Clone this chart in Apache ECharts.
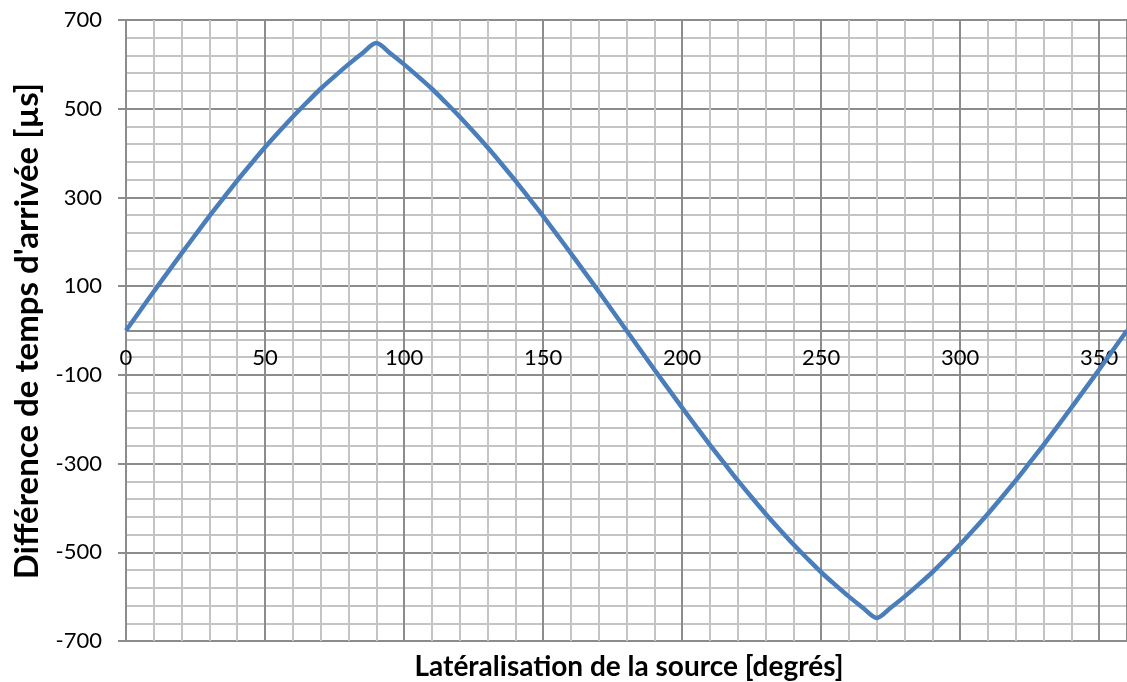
<!DOCTYPE html>
<html>
<head>
<meta charset="utf-8">
<script src="https://cdn.jsdelivr.net/npm/echarts@6/dist/echarts.min.js"></script>
<style>
    html, body { margin: 0; padding: 0; background: #fff; }
    #itd_chart { width: 1127px; height: 682px; }
</style>
</head>
<body>
<div id="itd_chart"></div>
<script>
// azimut de la source, en degrés
const angles = [0, 5, 10, 15, 20, 25, 30, 35, 40, 45, 50, 55, 60, 65, 70, 75, 80, 85, 90,
    95, 100, 105, 110, 115, 120, 125, 130, 135, 140, 145, 150, 155, 160, 165, 170, 175, 180,
    185, 190, 195, 200, 205, 210, 215, 220, 225, 230, 235, 240, 245, 250, 255, 260, 265, 270,
    275, 280, 285, 290, 295, 300, 305, 310, 315, 320, 325, 330, 335, 340, 345, 350, 355, 360];
// différence de temps d'arrivée, en µs
const itd = [0, 44, 88, 131, 174, 216, 258, 298, 338, 376, 413, 448, 482, 514, 545, 573, 600, 625, 648,
    625, 600, 573, 545, 514, 482, 448, 413, 376, 338, 298, 258, 216, 174, 131, 88, 44, 0,
    -44, -88, -131, -174, -216, -258, -298, -338, -376, -413, -448, -482, -514, -545, -573, -600, -625, -648,
    -625, -600, -573, -545, -514, -482, -448, -413, -376, -338, -298, -258, -216, -174, -131, -88, -44, 0];

const xTitle = 'Latéralisation de la source [degrés]';
const yTitle = "Différence de temps d'arrivée [µs]";

let chart = echarts.init(document.getElementById('itd_chart'));

const minorLine = { lineStyle: { color: '#c4c4c4', width: 2 } };
const majorLine = { lineStyle: { color: '#8c8c8c', width: 2 } };

const option = {
    animation: false,
    textStyle: { fontFamily: 'Lato' },
    grid: { left: 126, top: 20, right: -2, bottom: 41, containLabel: false },
    xAxis: {
        type: 'value',
        min: 0,
        max: 360,
        interval: 50,
        // l'axe des x passe par y = 0 (milieu de la grille)
        offset: -310.5,
        axisLine: { onZero: false, lineStyle: { color: '#8c8c8c', width: 2 } },
        axisTick: { show: false },
        axisLabel: { color: '#000', fontSize: 22, margin: 16, showMaxLabel: false },
        splitLine: majorLine,
        minorTick: { show: false, splitNumber: 5 },
        minorSplitLine: Object.assign({ show: true }, minorLine)
    },
    yAxis: {
        type: 'value',
        min: -700,
        max: 700,
        interval: 200,
        axisLine: { show: true, onZero: false, lineStyle: { color: '#8c8c8c', width: 2 } },
        axisTick: { show: true, length: 8, lineStyle: { color: '#8c8c8c', width: 2 } },
        axisLabel: { color: '#000', fontSize: 22, margin: 24 },
        splitLine: majorLine,
        minorTick: { show: false, splitNumber: 5 },
        minorSplitLine: Object.assign({ show: true }, minorLine)
    },
    graphic: [
        {
            type: 'text',
            x: 629,
            y: 667,
            style: {
                text: xTitle,
                font: 'bold 28px Lato',
                fill: '#000',
                align: 'center',
                verticalAlign: 'middle'
            }
        },
        {
            type: 'text',
            x: 27,
            y: 331,
            rotation: Math.PI / 2,
            style: {
                text: yTitle,
                font: 'bold 33px Lato',
                fill: '#000',
                align: 'center',
                verticalAlign: 'middle'
            }
        }
    ],
    series: [
        {
            type: 'line',
            data: angles.map((a, i) => [a, itd[i]]),
            showSymbol: false,
            smooth: 0.3,
            clip: false,
            lineStyle: { color: '#4a7ebb', width: 4.5 }
        }
    ]
};

chart.setOption(option);

window.addEventListener('resize', function () {
    chart.resize();
});
</script>
</body>
</html>
